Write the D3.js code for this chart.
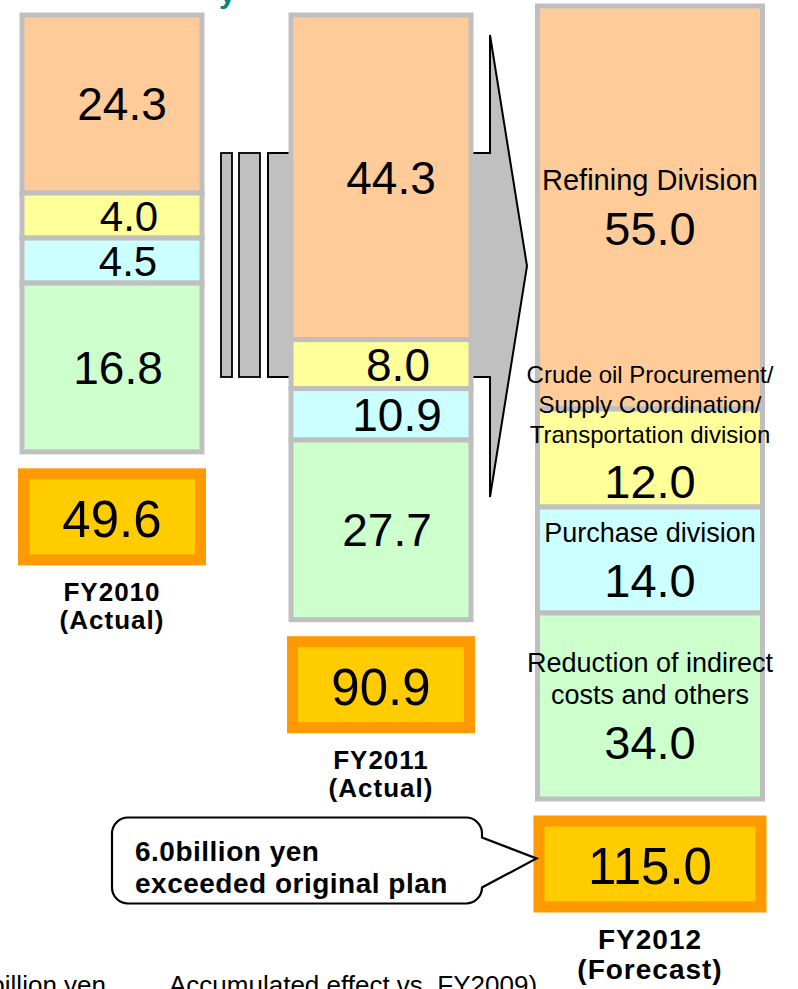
<!DOCTYPE html>
<html>
<head>
<meta charset="utf-8">
<script src="https://cdn.jsdelivr.net/npm/d3@7"></script>
<style>
  body { margin: 0; background: #fff; }
  svg { display: block; font-family: Arial, "Liberation Sans", sans-serif; }
</style>
</head>
<body>
<script>

// ---- data ----
var years = ["FY2010", "FY2011", "FY2012"];
var yearNotes = ["(Actual)", "(Actual)", "(Forecast)"];
var tiers = ["refining", "crude", "purchase", "indirect"];
var refining = [24.3, 44.3, 55.0];
var crude = [4.0, 8.0, 12.0];
var purchase = [4.5, 10.9, 14.0];
var indirect = [16.8, 27.7, 34.0];
var tierLabels = {
    refining: ["Refining Division"],
    crude: ["Crude oil Procurement/", "Supply Coordination/", "Transportation division"],
    purchase: ["Purchase division"],
    indirect: ["Reduction of indirect", "costs and others"]
};
var calloutLines = ["6.0billion yen", "exceeded original plan"];
var footLeft = "(Unit: billion yen";
var footRight = "Accumulated effect vs. FY2009)";

var series = {refining: refining, crude: crude, purchase: purchase, indirect: indirect};

// ---- layout ----
var width = 798, height = 989;
var fmt = d3.format(".1f");

var svg = d3.select("body").append("svg")
    .attr("width", width)
    .attr("height", height);

var last = years.length - 1;
var x = d3.scalePoint().domain(years).range([112, 650]);
var barW = i => i === last ? 225 : 180;
var barTop = i => i === last ? 6 : 15;

// refining is drawn to scale, the smaller tiers get a base height plus their own scale
var yBig = d3.scaleLinear().domain([0, 55]).range([0, 403]);
var ySmall = d3.scaleLinear().domain([0, 34]).range([0, 34]);

var tierStyle = {
    refining: {fill: "#ffcc99", base: 0, pad: 0, dx: 10, labelSize: 29, lineH: 31},
    crude: {fill: "#ffff99", base: 41, pad: 45, dx: 17, labelSize: 24, lineH: 30},
    purchase: {fill: "#ccffff", base: 40.5, pad: 51.5, dx: 16, labelSize: 27, lineH: 31},
    indirect: {fill: "#ccffcc", base: 152, pad: 0, dx: 6, labelSize: 27, lineH: 32}
};

var columns = years.map((year, i) => {
    var y0 = barTop(i);
    var withLabels = i === last;
    var segs = tiers.map(t => {
        var v = series[t][i];
        var st = tierStyle[t];
        var h = t === "refining" ? yBig(v) : st.base + ySmall(v) + (withLabels ? st.pad : 0);
        var s = {tier: t, value: v, y0: y0, h: h, labels: withLabels ? tierLabels[t] : []};
        y0 += h;
        return s;
    });
    return {
        i: i, year: year, note: yearNotes[i], cx: x(year), w: barW(i),
        segs: segs, bottom: y0, total: d3.sum(segs, d => d.value)
    };
});

// ---- arrow behind FY2011 ----
var c2 = columns[1];
var L = c2.cx - c2.w / 2, R = c2.cx + c2.w / 2;
var shaftTop = 153, shaftBot = 377, headTop = 35, headBot = 497;

var arrowPts = [
    [L - 23, shaftTop], [R + 19, shaftTop], [R + 19, headTop],
    [R + 56, (headTop + headBot) / 2],
    [R + 19, headBot], [R + 19, shaftBot], [L - 23, shaftBot]
];
svg.append("path")
    .attr("d", d3.line()(arrowPts) + "Z")
    .attr("fill", "#c0c0c0")
    .attr("stroke", "#000")
    .attr("stroke-width", 2);

[[L - 70, 11], [L - 52, 21]].forEach(s => {
    svg.append("rect")
        .attr("x", s[0])
        .attr("y", shaftTop)
        .attr("width", s[1])
        .attr("height", shaftBot - shaftTop)
        .attr("fill", "#c0c0c0")
        .attr("stroke", "#000")
        .attr("stroke-width", 1.8);
});

// ---- stacked bars ----
columns.forEach(col => {
    var g = svg.append("g");
    g.selectAll("rect")
        .data(col.segs)
        .enter().append("rect")
        .attr("x", col.cx - col.w / 2)
        .attr("y", d => d.y0)
        .attr("width", col.w)
        .attr("height", d => d.h)
        .attr("fill", d => tierStyle[d.tier].fill)
        .attr("stroke", "#bfbfbf")
        .attr("stroke-width", 5);

    col.segs.forEach(d => {
        var st = tierStyle[d.tier];
        if (d.labels.length === 0) {
            var fs = d.h < 48 ? 42 : 46;
            g.append("text")
                .attr("x", col.cx + st.dx)
                .attr("y", d.y0 + d.h / 2 + fs * 0.358)
                .attr("text-anchor", "middle")
                .attr("font-size", fs + "px")
                .text(fmt(d.value));
            return;
        }
        // label lines + value, centred, or held to the bottom if it does not fit
        var n = d.labels.length;
        var cap = st.labelSize * 0.716;
        var blockH = cap + st.lineH * (n - 1) + 55;
        var valueBase;
        if (blockH > d.h - 18) {
            valueBase = d.y0 + d.h - 9;
        } else {
            valueBase = d.y0 + (d.h - blockH) / 2 + blockH;
        }
        var firstBase = valueBase - 55 - st.lineH * (n - 1);
        d.labels.forEach((line, k) => {
            g.append("text")
                .attr("x", col.cx)
                .attr("y", firstBase + st.lineH * k)
                .attr("text-anchor", "middle")
                .attr("font-size", st.labelSize + "px")
                .text(line);
        });
        g.append("text")
            .attr("x", col.cx)
            .attr("y", valueBase)
            .attr("text-anchor", "middle")
            .attr("font-size", "47px")
            .text(fmt(d.value));
    });

    // total box
    var boxTop = col.bottom + 16.5;
    var boxW = col.w + 8, boxH = 97;
    col.boxLeft = col.cx - boxW / 2;
    col.boxTop = boxTop;
    svg.append("rect")
        .attr("x", col.boxLeft + 5.5)
        .attr("y", boxTop + 5.5)
        .attr("width", boxW - 11)
        .attr("height", boxH - 11)
        .attr("fill", "#ffcc00")
        .attr("stroke", "#ff9900")
        .attr("stroke-width", 11);
    svg.append("text")
        .attr("x", col.cx)
        .attr("y", boxTop + boxH / 2 + 2 + 51 * 0.358)
        .attr("text-anchor", "middle")
        .attr("font-size", "51px")
        .text(fmt(col.total));

    // year label
    var ls = col.i === last ? 28 : 26;
    var lab = svg.append("text")
        .attr("text-anchor", "middle")
        .attr("font-size", ls + "px")
        .attr("font-weight", "bold")
        .attr("letter-spacing", "1px");
    lab.append("tspan")
        .attr("x", col.cx)
        .attr("y", boxTop + boxH + 36)
        .text(col.year);
    lab.append("tspan")
        .attr("x", col.cx)
        .attr("y", boxTop + boxH + 36 + ls + 2)
        .text(col.note);
});

// ---- callout pointing at the FY2012 total ----
var c3 = columns[last];
var cl = 112, cr = 482, ct = c3.boxTop + 2, cb = c3.boxTop + 88, r = 16;
var tipX = c3.boxLeft + 3, tipY = c3.boxTop + 43;
var calloutPath = "M" + (cl + r) + "," + ct +
    "H" + (cr - r) +
    "A" + r + "," + r + " 0 0 1 " + cr + "," + (ct + r) +
    "V" + (ct + 20) +
    "L" + tipX + "," + tipY +
    "L" + cr + "," + (ct + 70) +
    "V" + (cb - r) +
    "A" + r + "," + r + " 0 0 1 " + (cr - r) + "," + cb +
    "H" + (cl + r) +
    "A" + r + "," + r + " 0 0 1 " + cl + "," + (cb - r) +
    "V" + (ct + r) +
    "A" + r + "," + r + " 0 0 1 " + (cl + r) + "," + ct + "Z";

svg.append("path")
    .attr("d", calloutPath)
    .attr("fill", "#fff")
    .attr("stroke", "#000")
    .attr("stroke-width", 2.2);

calloutLines.forEach((line, k) => {
    svg.append("text")
        .attr("x", cl + 23)
        .attr("y", ct + 43 + 32 * k)
        .attr("font-size", "28px")
        .attr("font-weight", "bold")
        .attr("letter-spacing", "0.5px")
        .text(line);
});

// ---- texts cut by the page edges, as in the slide crop ----
svg.append("text")
    .attr("x", 106)
    .attr("y", 994)
    .attr("text-anchor", "end")
    .attr("font-size", "26px")
    .text(footLeft);

svg.append("text")
    .attr("x", 169)
    .attr("y", 994)
    .attr("font-size", "26px")
    .text(footRight);

svg.append("text")
    .attr("x", 219)
    .attr("y", 3)
    .attr("font-size", "30px")
    .attr("font-weight", "bold")
    .attr("fill", "#00878a")
    .text("y");

</script>
</body>
</html>
